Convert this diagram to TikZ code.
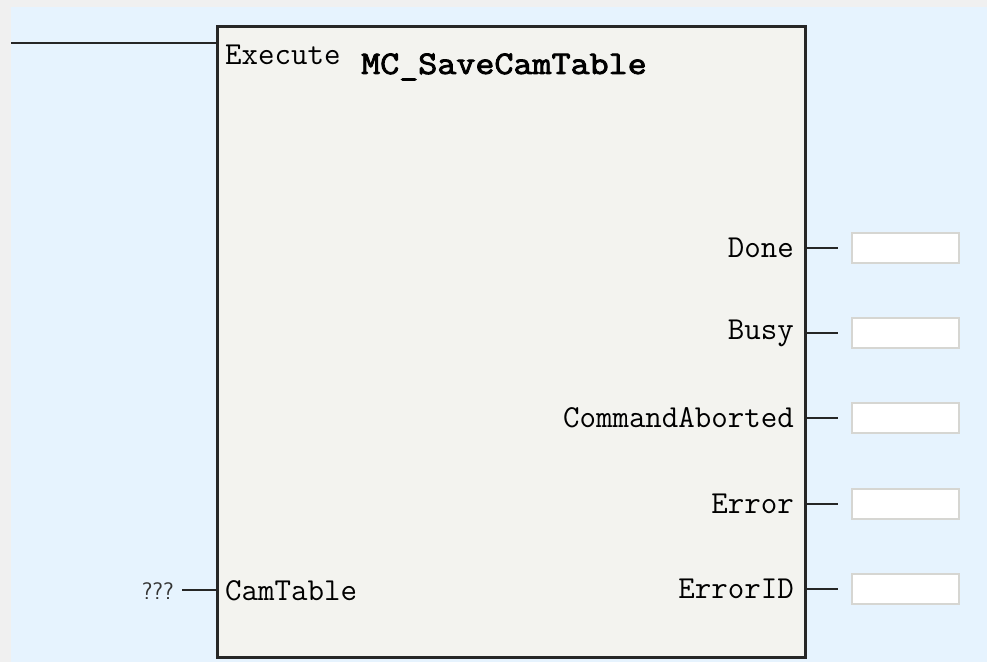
\documentclass[tikz,border=0pt]{standalone}
\usepackage{fontspec}
\newfontfamily\pinfont{Latin Modern Mono}
\newfontfamily\titlefont{Latin Modern Mono}[FakeBold=2.5]
\definecolor{frame}{HTML}{F0F0F0}
\definecolor{bg}{HTML}{E6F3FE}
\definecolor{blockfill}{HTML}{F3F3EF}
\definecolor{boxedge}{HTML}{D6D6D2}
\begin{document}
\begin{tikzpicture}[x=1pt,y=-1pt,
  pin/.style={font=\pinfont\fontsize{32}{34}\selectfont, inner sep=0pt},
  outbox/.style={draw=boxedge, line width=1.5pt, fill=white, minimum width=107pt, minimum height=30pt, inner sep=0pt},
  wire/.style={line width=2.6pt, draw=black!85}]
\fill[frame] (0,0) rectangle (987,662);
\useasboundingbox (0,0) rectangle (987,662);
\fill[bg] (11,7) rectangle (987,662);
% block
\node[draw=black!85, line width=2.6pt, fill=blockfill, minimum width=588pt, minimum height=631pt, inner sep=0pt, anchor=north west] (fb) at (216,25) {};
% title
\node[inner sep=0pt, anchor=west] (title) at (361,67) {\scalebox{1.12}[1]{\titlefont\fontsize{33}{35}\selectfont MC\_SaveCamTable}};
% inputs
\node[pin, anchor=west] (exe) at (225,55) {Execute};
\coordinate (exein) at (216,43);
\coordinate (rail) at (11,43);
\draw[wire] (rail) -- (exein);
\node[pin, anchor=west] (cam) at (225,591) {CamTable};
\coordinate (camin) at (216,590);
\node[font=\sffamily\fontsize{24}{26}\selectfont, inner sep=0pt, anchor=east, text=black!80] (qqq) at (174,591) {???};
\coordinate (qend) at (182,590);
\draw[wire] (qend) -- (camin);
% outputs
\foreach \n/\t/\y in {done/Done/248, busy/Busy/333, cab/CommandAborted/418, err/Error/504, eid/ErrorID/589}{
  \node[pin, anchor=east] (\n) at (794,\y) {\t};
  \coordinate (\n p) at (804,\y);
  \coordinate (\n q) at (838,\y);
  \node[outbox, anchor=west] (\n box) at (851,\y) {};
  \draw[wire] (\n p) -- (\n q);
}
\end{tikzpicture}
\end{document}
